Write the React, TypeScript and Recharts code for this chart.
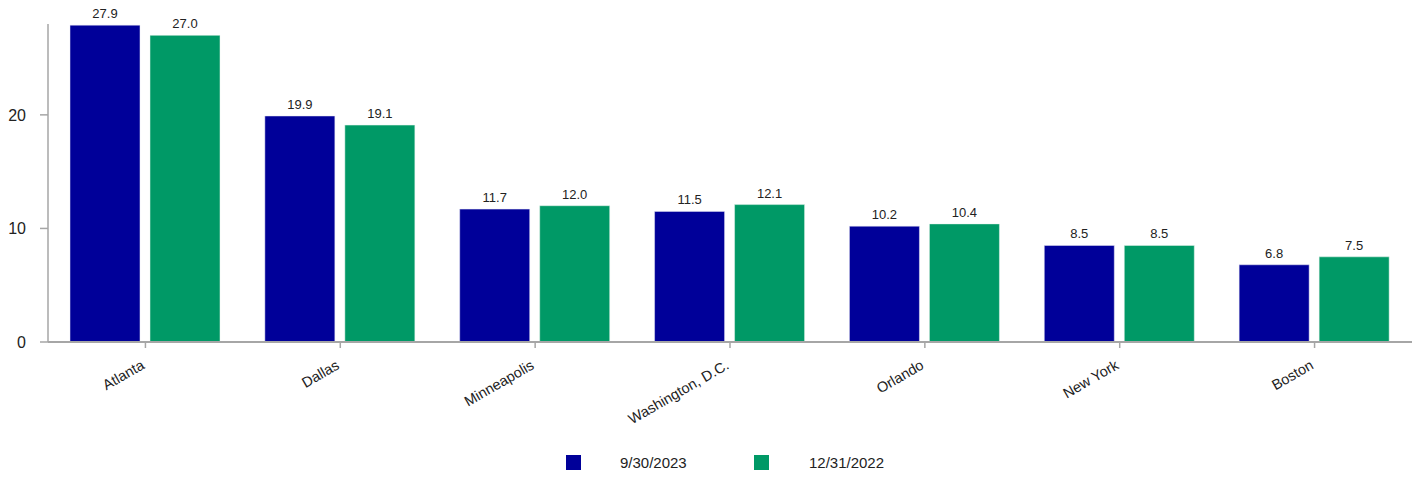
import React from 'react';
import { BarChart, Bar, XAxis, YAxis, LabelList, Legend } from 'recharts';

const cities = ['Atlanta', 'Dallas', 'Minneapolis', 'Washington, D.C.', 'Orlando', 'New York', 'Boston'];
const sep2023 = [27.9, 19.9, 11.7, 11.5, 10.2, 8.5, 6.8];
const dec2022 = [27.0, 19.1, 12.0, 12.1, 10.4, 8.5, 7.5];
const yTicks = [0, 10, 20];

const BLUE = '#000099';
const GREEN = '#009966';
const FONT = '"Liberation Sans", Arial, sans-serif';

const data = cities.map((name, i) => ({ name, sep2023: sep2023[i], dec2022: dec2022[i] }));

const CityTick = (props: any) => {
  const { x, y, payload } = props;
  return (
    <g transform={`translate(${x},${y + 18})`}>
      <text transform="rotate(-30)" textAnchor="end" fontSize={14.5} fill="#222" fontFamily={FONT}>
        {payload.value}
      </text>
    </g>
  );
};

const LegendBox = () => (
  <div style={{ display: 'flex', justifyContent: 'center', alignItems: 'center', fontFamily: FONT, fontSize: 15, color: '#222', paddingLeft: 38 }}>
    <span style={{ width: 15, height: 15, background: BLUE, display: 'inline-block' }} />
    <span style={{ marginLeft: 39, width: 134 }}>9/30/2023</span>
    <span style={{ width: 15, height: 15, background: GREEN, display: 'inline-block' }} />
    <span style={{ marginLeft: 40 }}>12/31/2022</span>
  </div>
);

const labelStyle = { fontSize: 13, fill: '#222', fontFamily: FONT };

const App: React.FC = () => {
  return (
    <div style={{ width: 1420, height: 477, background: '#fff' }}>
      <style>{'body{margin:0}'}</style>
      <BarChart
        width={1420}
        height={477}
        data={data}
        margin={{ top: 24, right: 8, left: 0, bottom: 3 }}
        barCategoryGap={22}
        barGap={10}
      >
        <XAxis
          dataKey="name"
          height={112}
          tick={<CityTick />}
          tickSize={6}
          interval={0}
          axisLine={{ stroke: '#a6a6a6', strokeWidth: 2 }}
          tickLine={{ stroke: '#a6a6a6', strokeWidth: 1.5 }}
        />
        <YAxis
          width={48}
          domain={[0, 28]}
          ticks={yTicks}
          tickSize={8}
          tickMargin={14}
          axisLine={{ stroke: '#a6a6a6', strokeWidth: 1.5 }}
          tickLine={{ stroke: '#a6a6a6', strokeWidth: 1.5 }}
          tick={{ fontSize: 16, fill: '#222', fontFamily: FONT }}
        />
        <Legend verticalAlign="bottom" height={20} content={<LegendBox />} />
        <Bar dataKey="sep2023" fill={BLUE} stroke="#e8e8f4" strokeWidth={0.5} isAnimationActive={false}>
          <LabelList dataKey="sep2023" position="top" offset={7} formatter={(v: any) => Number(v).toFixed(1)} style={labelStyle} />
        </Bar>
        <Bar dataKey="dec2022" fill={GREEN} stroke="#e8f4ee" strokeWidth={0.5} isAnimationActive={false}>
          <LabelList dataKey="dec2022" position="top" offset={7} formatter={(v: any) => Number(v).toFixed(1)} style={labelStyle} />
        </Bar>
      </BarChart>
    </div>
  );
};

export default App;
